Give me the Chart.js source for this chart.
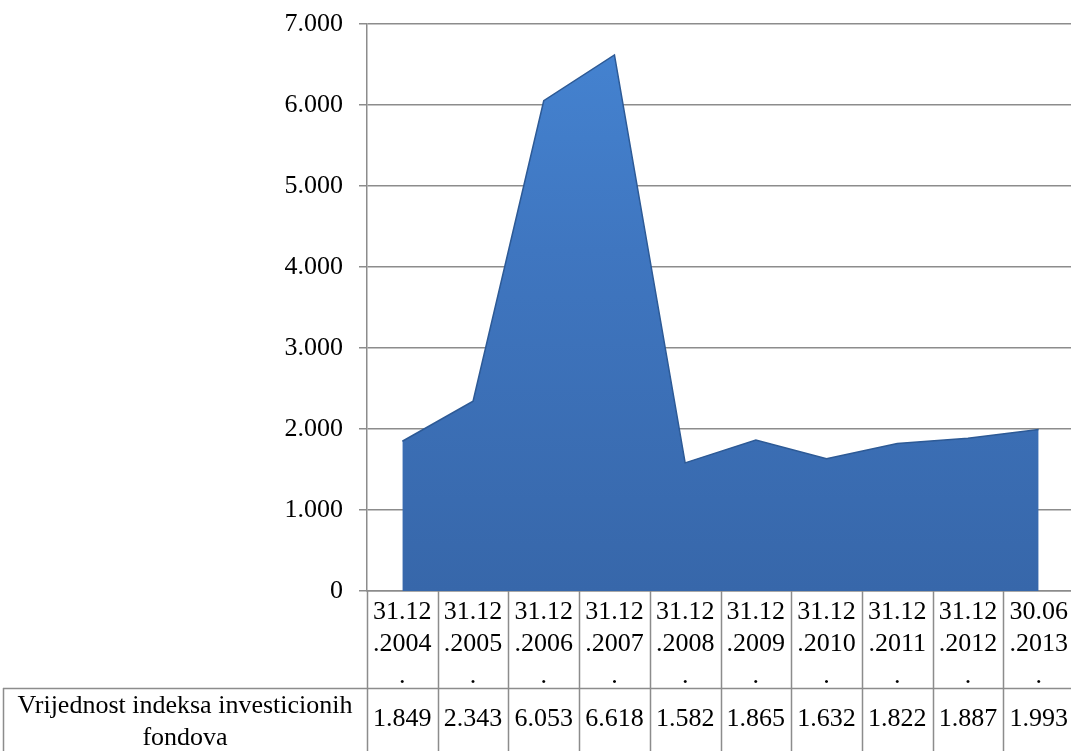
<!DOCTYPE html>
<html lang="hr">
<head>
  <meta charset="UTF-8">
  <title>Vrijednost indeksa investicionih fondova</title>
  <script src="https://cdn.jsdelivr.net/npm/chart.js"></script>
  <style>
    html, body {
      margin: 0;
      padding: 0;
      background: #fff;
      overflow: hidden;
    }
    .chart-box {
      width: 1074px;
      height: 751px;
    }
  </style>
</head>
<body>
  <div class="chart-box">
    <canvas id="areaChart"></canvas>
  </div>

  <script>
    // data
    const categories = [
      ['31.12', '.2004', '.'],
      ['31.12', '.2005', '.'],
      ['31.12', '.2006', '.'],
      ['31.12', '.2007', '.'],
      ['31.12', '.2008', '.'],
      ['31.12', '.2009', '.'],
      ['31.12', '.2010', '.'],
      ['31.12', '.2011', '.'],
      ['31.12', '.2012', '.'],
      ['30.06', '.2013', '.']
    ];
    const indexValues = [1849, 2343, 6053, 6618, 1582, 1865, 1632, 1822, 1887, 1993];
    const seriesName = ['Vrijednost indeksa investicionih', 'fondova'];
    const yTicks = [0, 1000, 2000, 3000, 4000, 5000, 6000, 7000];

    const FONT = "'Liberation Serif', 'Times New Roman', serif";
    const GRID = '#8c8c8c';

    function fmt(v) {
      return String(v).replace(/\B(?=(\d{3})+(?!\d))/g, '.');
    }

    // draws the excel style data table under the plot
    const dataTable = {
      id: 'dataTable',
      afterDraw(chart) {
        const ctx = chart.ctx;
        const x = chart.scales.x;
        const area = chart.chartArea;
        const n = categories.length;
        const colW = (area.right - area.left) / n;
        const rowTop = area.bottom;
        const midLine = 688;
        const bottom = chart.height;

        ctx.save();
        ctx.strokeStyle = GRID;
        ctx.lineWidth = 1.5;
        ctx.beginPath();
        for (let i = 0; i <= n; i++) {
          const bx = Math.round(area.left + i * colW) + 0.5;
          ctx.moveTo(bx, rowTop);
          ctx.lineTo(bx, bottom);
        }
        ctx.moveTo(3.5, midLine);
        ctx.lineTo(3.5, bottom);
        ctx.moveTo(3, midLine + 0.5);
        ctx.lineTo(chart.width, midLine + 0.5);
        ctx.stroke();

        ctx.fillStyle = '#000';
        ctx.font = '26px ' + FONT;
        ctx.textAlign = 'center';
        ctx.textBaseline = 'middle';
        indexValues.forEach((v, i) => {
          ctx.fillText(fmt(v), x.getPixelForValue(i), 719);
        });
        const lx = (3 + area.left) / 2;
        ctx.fillText(seriesName[0], lx, 706);
        ctx.fillText(seriesName[1], lx, 738);
        ctx.restore();
      }
    };

    const ctx = document.getElementById('areaChart').getContext('2d');
    new Chart(ctx, {
      type: 'line',
      data: {
        labels: categories,
        datasets: [{
          label: seriesName.join(' '),
          data: indexValues,
          fill: 'origin',
          tension: 0,
          pointRadius: 0,
          borderWidth: 1.5,
          borderColor: '#2d5a96',
          backgroundColor: (c) => {
            const a = c.chart.chartArea;
            if (!a) return '#3c6fb4';
            const g = c.chart.ctx.createLinearGradient(0, a.top, 0, a.bottom);
            g.addColorStop(0, '#4584d2');
            g.addColorStop(0.4, '#3f76c0');
            g.addColorStop(1, '#3767aa');
            return g;
          }
        }]
      },
      options: {
        responsive: true,
        maintainAspectRatio: false,
        animation: false,
        layout: { padding: { top: 24, left: 0, right: 0, bottom: 0 } },
        plugins: {
          legend: { display: false },
          tooltip: { enabled: false }
        },
        scales: {
          x: {
            type: 'category',
            offset: true,
            grid: { display: false, drawTicks: false },
            border: { display: true, color: GRID, width: 1.5 },
            ticks: {
              autoSkip: false,
              maxRotation: 0,
              minRotation: 0,
              padding: 5,
              color: '#000',
              font: { family: FONT, size: 26, lineHeight: 1.24 }
            },
            afterFit(scale) {
              scale.height = 160;
              scale.paddingLeft = 0;
              scale.paddingRight = 0;
            }
          },
          y: {
            min: 0,
            max: 7000,
            afterBuildTicks(scale) {
              scale.ticks = yTicks.map(v => ({ value: v }));
            },
            grid: { color: GRID, lineWidth: 1.5, tickLength: 8 },
            border: { display: true, color: GRID, width: 1.5 },
            ticks: {
              padding: 16,
              color: '#000',
              font: { family: FONT, size: 26 },
              callback: (v) => fmt(v)
            },
            afterFit(scale) {
              scale.width = 367;
              scale.paddingTop = 0;
              scale.paddingBottom = 0;
            }
          }
        }
      },
      plugins: [dataTable]
    });
  </script>
</body>
</html>
